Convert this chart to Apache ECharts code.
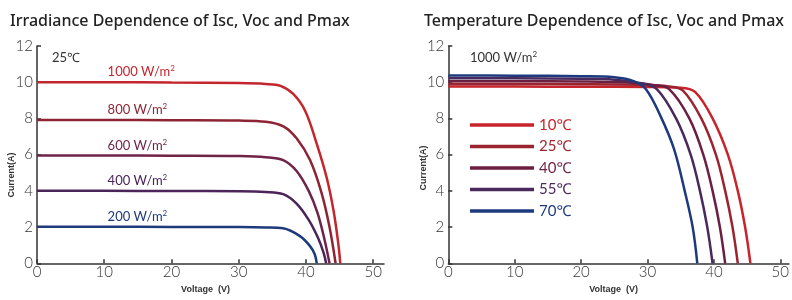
<!DOCTYPE html>
<html>
<head>
    <meta charset="utf-8">
    <title>I-V curves</title>
    <script src="https://cdn.jsdelivr.net/npm/echarts@6/dist/echarts.min.js"></script>
</head>
<body style="margin:0">
    <div id="main" style="width:792px;height:300px;"></div>
    <script type="text/javascript">
        // irradiance curves (25C) - voltage / current pairs
        var v1000 = [0, 10, 20, 30, 34, 36.2, 38.1, 39.9, 41.6, 43.1, 44.1, 44.8, 45.1];
        var i1000 = [10.0, 10.0, 9.98, 9.95, 9.9, 9.8, 9.35, 8.4, 6.6, 4.7, 2.9, 1.1, 0];
        var v800 = [0, 10, 20, 30, 34, 36.7, 38.6, 40.6, 42.3, 43.5, 44.4];
        var i800 = [7.92, 7.92, 7.9, 7.88, 7.82, 7.55, 6.9, 5.7, 3.9, 2.0, 0];
        var v600 = [0, 10, 20, 30, 34, 36.6, 38.6, 40.4, 41.7, 42.7, 43.5];
        var i600 = [5.95, 5.95, 5.94, 5.92, 5.86, 5.7, 5.1, 4.0, 2.8, 1.4, 0];
        var v400 = [0, 10, 20, 30, 34, 36.6, 38.6, 40.4, 41.8, 42.6, 43.0];
        var i400 = [4.0, 4.0, 3.99, 3.98, 3.94, 3.82, 3.3, 2.4, 1.4, 0.6, 0];
        var v200 = [0, 10, 20, 30, 34, 36.6, 39.1, 40.6, 41.3, 41.6];
        var i200 = [2.02, 2.02, 2.01, 2.0, 1.98, 1.93, 1.5, 0.95, 0.5, 0];
        var irrNames = ['1000', '800', '600', '400', '200'];

        // temperature curves (1000 W/m2)
        var v10 = [0, 10, 20, 30, 35, 37.2, 39.8, 42.1, 43.6, 44.7, 45.5];
        var i10 = [9.76, 9.76, 9.75, 9.74, 9.7, 9.45, 8, 6, 4, 2, 0];
        var v25 = [0, 10, 20, 30, 33, 35.3, 38.1, 40.3, 41.7, 42.8, 43.6];
        var i25 = [9.9, 9.9, 9.89, 9.85, 9.78, 9.55, 8, 6, 4, 2, 0];
        var v40 = [0, 10, 20, 27, 31, 33.3, 36.3, 38.4, 39.8, 40.9, 41.7];
        var i40 = [10.06, 10.06, 10.04, 9.98, 9.84, 9.6, 8, 6, 4, 2, 0];
        var v55 = [0, 10, 20, 25, 29, 31.4, 34.3, 36.5, 37.9, 39.0, 39.8];
        var i55 = [10.22, 10.22, 10.19, 10.14, 9.95, 9.62, 8, 6, 4, 2, 0];
        var v70 = [0, 10, 20, 25, 28, 29.8, 32.0, 34.0, 35.6, 36.8, 37.5];
        var i70 = [10.37, 10.36, 10.33, 10.27, 10.05, 9.6, 8.1, 6.3, 4.0, 2.0, 0];
        var tempNames = ['10℃', '25℃', '40℃', '55℃', '70℃'];

        var xTicks = [0, 10, 20, 30, 40, 50];

        var irrColors = ['#c4262e', '#8e2433', '#6f2348', '#4b2459', '#1d3a7b'];
        var tempColors = ['#c8242b', '#9a2530', '#6c1f40', '#4a2a5c', '#1e3a7e'];

        function pairs(v, i) {
            return v.map(function (x, k) { return [x, i[k]]; });
        }

        var numFont = 'Lato, "Noto Sans", sans-serif';

        function xAxisCfg(idx) {
            return {
                type: 'value', gridIndex: idx, min: 0, max: idx === 0 ? 51.6 : 51.3,
                name: 'Voltage  (V)', nameLocation: 'middle', nameGap: 22,
                nameTextStyle: {fontSize: 9, fontWeight: 'bold', color: '#333', fontFamily: 'Arial, sans-serif', padding: [0, 10, 0, 0]},
                axisLine: {lineStyle: {color: '#333', width: 1.5}},
                axisTick: {inside: true, length: 4, customValues: xTicks, lineStyle: {color: '#333', width: 1.5}},
                axisLabel: {customValues: xTicks, margin: 1, fontSize: 15, color: '#333', fontFamily: numFont, fontWeight: 300},
                splitLine: {show: false}
            };
        }

        function yAxisCfg(idx) {
            return {
                type: 'value', gridIndex: idx, min: 0, max: 12, interval: 2,
                axisLine: {show: true, lineStyle: {color: '#333', width: 1.5}},
                axisTick: {show: true, inside: true, length: 4, lineStyle: {color: '#333', width: 1.5}},
                axisLabel: {margin: 4, fontSize: 15, color: '#333', fontFamily: numFont, fontWeight: 300},
                splitLine: {show: false}
            };
        }

        var irrData = [pairs(v1000, i1000), pairs(v800, i800), pairs(v600, i600), pairs(v400, i400), pairs(v200, i200)];
        var irrIsc = [i1000[0], i800[0], i600[0], i400[0], i200[0]];
        var tempData = [pairs(v10, i10), pairs(v25, i25), pairs(v40, i40), pairs(v55, i55), pairs(v70, i70)];

        var series = [];
        irrData.forEach(function (d, k) {
            series.push({
                type: 'line', name: irrNames[k] + ' W/m2', xAxisIndex: 0, yAxisIndex: 0,
                data: d, smooth: 0.35, showSymbol: false,
                lineStyle: {color: irrColors[k], width: 2.5},
                itemStyle: {color: irrColors[k]},
                markPoint: {
                    symbol: 'circle', symbolSize: 1, itemStyle: {color: 'rgba(0,0,0,0)'},
                    data: [{coord: [10.5, irrIsc[k] + 0.55]}],
                    label: {
                        show: true, position: 'inside', align: 'left',
                        formatter: '{a|' + irrNames[k] + ' W/m}{s|2}',
                        rich: {
                            a: {fontSize: 13, color: irrColors[k], fontFamily: numFont, lineHeight: 15},
                            s: {fontSize: 8, color: irrColors[k], fontFamily: numFont, verticalAlign: 'top', lineHeight: 9}
                        }
                    }
                }
            });
        });
        tempData.forEach(function (d, k) {
            series.push({
                type: 'line', name: tempNames[k], xAxisIndex: 1, yAxisIndex: 1,
                data: d, smooth: 0.35, showSymbol: false,
                lineStyle: {color: tempColors[k], width: 2.5},
                itemStyle: {color: tempColors[k]}
            });
        });

        var myChart = echarts.init(document.getElementById('main'));
        var option = {
            animation: false,
            title: [
                {text: 'Irradiance Dependence of Isc, Voc and Pmax', left: 5, top: 8,
                    textStyle: {fontSize: 16, fontWeight: 500, color: '#222', fontFamily: '"Noto Sans", sans-serif'}},
                {text: 'Temperature Dependence of Isc, Voc and Pmax', left: 419, top: 8,
                    textStyle: {fontSize: 16, fontWeight: 500, color: '#222', fontFamily: '"Noto Sans", sans-serif'}}
            ],
            grid: [
                {left: 37, top: 46, width: 347, height: 217.3},
                {left: 448.3, top: 46, width: 343.7, height: 217.3}
            ],
            xAxis: [xAxisCfg(0), xAxisCfg(1)],
            yAxis: [yAxisCfg(0), yAxisCfg(1)],
            legend: {
                orient: 'vertical', left: 470, top: 117, padding: 0,
                icon: 'rect', itemWidth: 64, itemHeight: 3.5, itemGap: 5.5,
                textStyle: {fontSize: 15, lineHeight: 16, fontFamily: numFont},
                data: tempNames.map(function (n, k) {
                    return {name: n, textStyle: {color: tempColors[k]}};
                })
            },
            graphic: [
                {type: 'text', x: 12, y: 175, rotation: Math.PI / 2,
                    style: {text: 'Current(A)', fontSize: 9, fontWeight: 'bold', fill: '#333', fontFamily: 'Arial, sans-serif', align: 'center', verticalAlign: 'middle'}},
                {type: 'text', x: 424, y: 168, rotation: Math.PI / 2,
                    style: {text: 'Current(A)', fontSize: 9, fontWeight: 'bold', fill: '#333', fontFamily: 'Arial, sans-serif', align: 'center', verticalAlign: 'middle'}},
                {type: 'text', x: 52, y: 58,
                    style: {text: '25℃', fontSize: 13, fill: '#333', fontFamily: numFont, verticalAlign: 'middle'}},
                {type: 'text', x: 470, y: 58,
                    style: {text: '{a|1000 W/m}{s|2}', verticalAlign: 'middle',
                        rich: {
                            a: {fontSize: 13, fill: '#333', fontFamily: numFont, lineHeight: 15},
                            s: {fontSize: 8, fill: '#333', fontFamily: numFont, verticalAlign: 'top', lineHeight: 9}
                        }}}
            ],
            series: series
        };
        myChart.setOption(option);
    </script>
</body>
</html>
